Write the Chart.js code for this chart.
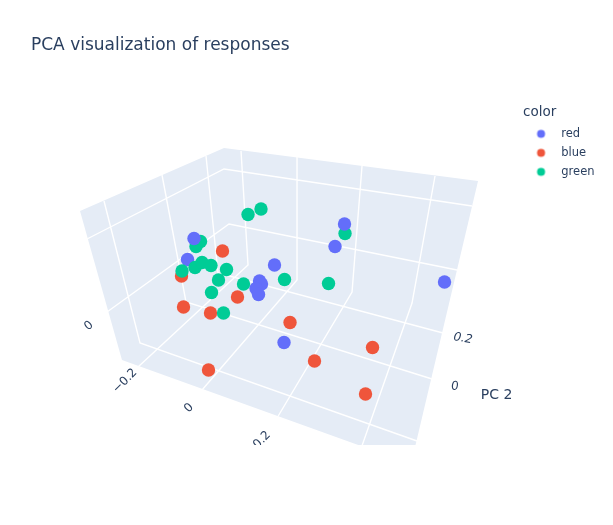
<!DOCTYPE html>
<html>
<head>
<meta charset="utf-8">
<title>PCA visualization of responses</title>
<script src="https://cdn.jsdelivr.net/npm/chart.js@4"></script>
<style>
  html, body { margin: 0; background: #fff; }
  canvas { display: block; }
</style>
</head>
<body>
<canvas id="pcaChart" width="613" height="525"></canvas>
<script>
var categories = ['red', 'blue', 'green'];
var redX = [-0.185, -0.011, -0.041, -0.037, -0.048, -0.043, 0.008, 0.110, 0.329];
var redY = [0.081, 0.070, 0.038, 0.032, 0.023, 0.011, -0.085, 0.107, 0.036];
// the two red points that sit nearer the camera than the green ones
var redFrontX = [-0.172, 0.129];
var redFrontY = [0.123, 0.152];
var blueX = [-0.115, -0.197, -0.193, -0.139, -0.085, 0.020, -0.143, 0.069, 0.185, 0.171];
var blueY = [0.098, 0.048, -0.014, -0.026, 0.006, -0.045, -0.140, -0.122, -0.095, -0.188];
var greenX = [-0.064, -0.038, -0.159, -0.168, -0.196, -0.170, -0.156, -0.138, -0.107, -0.123, -0.137, -0.113, -0.073, 0.009, 0.130, 0.097];
var greenY = [0.171, 0.182, 0.117, 0.107, 0.058, 0.065, 0.075, 0.069, 0.061, 0.040, 0.015, -0.026, 0.032, 0.041, 0.133, 0.033];

// box walls and floor seen as one outline
var paneX = [-0.400, -0.112, 0.396, 0.262, -0.316, -0.400];
var paneY = [0.178, 0.304, 0.238, -0.328, -0.120, 0.178];
// grid lines, each one bends where it moves from one wall to the next
var gridLines = [
  [[-0.386, 0.122], [-0.112, 0.262], [0.384, 0.188]],
  [[-0.346, -0.024], [-0.102, 0.152], [0.354, 0.060]],
  [[-0.352, 0.198], [-0.280, -0.086], [0.274, -0.282]],
  [[-0.236, 0.250], [-0.188, -0.004], [0.304, -0.158]],
  [[-0.148, 0.288], [-0.124, 0.054], [0.326, -0.066]],
  [[-0.078, 0.298], [-0.064, 0.070], [-0.284, -0.134]],
  [[0.034, 0.286], [0.034, 0.040], [-0.156, -0.180]],
  [[0.164, 0.268], [0.144, 0.016], [-0.006, -0.236]],
  [[0.310, 0.248], [0.264, -0.006], [0.154, -0.320]]
];

var tickLabels = ['\u22120.2', '0', '0.2', '0', '0.2', '0', 'PC 2'];
var tickX = [-0.310, -0.182, -0.036, -0.382, 0.366, 0.350, 0.433];
var tickY = [-0.162, -0.216, -0.280, -0.052, -0.077, -0.173, -0.190];
var tickAngle = [-45, -45, -45, -40, 10, -5, 0];
var tickItalic = [false, false, false, false, true, true, false];
var tickSize = [12, 12, 12, 12, 12, 12, 14];

var ink = '#2a3f5f';
var fontName = '"DejaVu Sans", sans-serif';

function toPoints(xs, ys) {
  return xs.map(function (x, i) { return { x: x, y: ys[i] }; });
}

function gridPoints() {
  var points = [];
  gridLines.forEach(function (line) {
    line.forEach(function (p) { points.push({ x: p[0], y: p[1] }); });
    points.push({ x: null, y: null });
  });
  return points;
}

// legend marker with room on its right, the gap to the text is wider than Chart.js gives
function legendDot(color) {
  var c = document.createElement('canvas');
  c.width = 25;
  c.height = 11;
  var g = c.getContext('2d');
  g.fillStyle = color;
  g.beginPath();
  g.arc(10.5, 5.5, 4, 0, Math.PI * 2);
  g.fill();
  return c;
}

var tickTextPlugin = {
  id: 'tickText',
  afterDatasetsDraw: function (chart) {
    var ctx = chart.ctx;
    ctx.save();
    ctx.beginPath();
    ctx.rect(0, 0, chart.width, chart.chartArea.bottom);
    ctx.clip();
    ctx.fillStyle = ink;
    ctx.textAlign = 'center';
    ctx.textBaseline = 'middle';
    tickLabels.forEach(function (label, i) {
      ctx.save();
      ctx.translate(chart.scales.x.getPixelForValue(tickX[i]), chart.scales.y.getPixelForValue(tickY[i]));
      ctx.rotate(tickAngle[i] * Math.PI / 180);
      ctx.font = (tickItalic[i] ? 'italic ' : '') + tickSize[i] + 'px ' + fontName;
      ctx.fillText(label, 0, 0);
      ctx.restore();
    });
    ctx.restore();
  }
};

new Chart(document.getElementById('pcaChart'), {
  type: 'scatter',
  plugins: [tickTextPlugin],
  data: {
    datasets: [
      { label: categories[0], data: toPoints(redX, redY), backgroundColor: '#636efa', order: 2 },
      { label: categories[1], data: toPoints(blueX, blueY), backgroundColor: '#EF553B', order: 3 },
      { label: categories[2], data: toPoints(greenX, greenY), backgroundColor: '#00cc96', order: 1 },
      { label: 'red front', data: toPoints(redFrontX, redFrontY), backgroundColor: '#636efa', order: 0 },
      { label: 'grid', data: gridPoints(), showLine: true, spanGaps: false, borderColor: '#ffffff', borderWidth: 1.4, pointRadius: 0, order: 4 },
      { label: 'pane', data: toPoints(paneX, paneY), showLine: true, fill: 'shape', backgroundColor: '#e5ecf6', borderColor: '#e5ecf6', borderWidth: 0, pointRadius: 0, order: 5 }
    ]
  },
  options: {
    responsive: false,
    animation: false,
    layout: { padding: { left: 31, right: 8.5, top: 35, bottom: 80 } },
    elements: { point: { radius: 6.7, borderWidth: 0, hoverRadius: 6.7 } },
    scales: {
      x: { display: false, min: -0.498, max: 0.486 },
      y: { display: false, min: -0.290, max: 0.3932 }
    },
    plugins: {
      tooltip: { enabled: false },
      title: {
        display: true,
        text: 'PCA visualization of responses',
        align: 'start',
        color: ink,
        font: { family: fontName, size: 17, weight: 'normal' },
        padding: { top: 0, bottom: 48 }
      },
      legend: {
        position: 'right',
        align: 'start',
        fullSize: false,
        title: { display: true, text: 'color', position: 'start', color: ink, font: { family: fontName, size: 13.5 }, padding: { top: 2, bottom: -1 } },
        labels: {
          color: ink,
          font: { family: fontName, size: 11.5 },
          usePointStyle: true,
          pointStyleWidth: 25,
          padding: 7.5,
          filter: function (item) { return item.datasetIndex < 3; },
          sort: function (a, b) { return a.datasetIndex - b.datasetIndex; },
          generateLabels: function (chart) {
            var items = Chart.defaults.plugins.legend.labels.generateLabels(chart);
            items.forEach(function (item) { item.pointStyle = legendDot(item.fillStyle); });
            return items;
          }
        }
      }
    }
  }
});
</script>
</body>
</html>
